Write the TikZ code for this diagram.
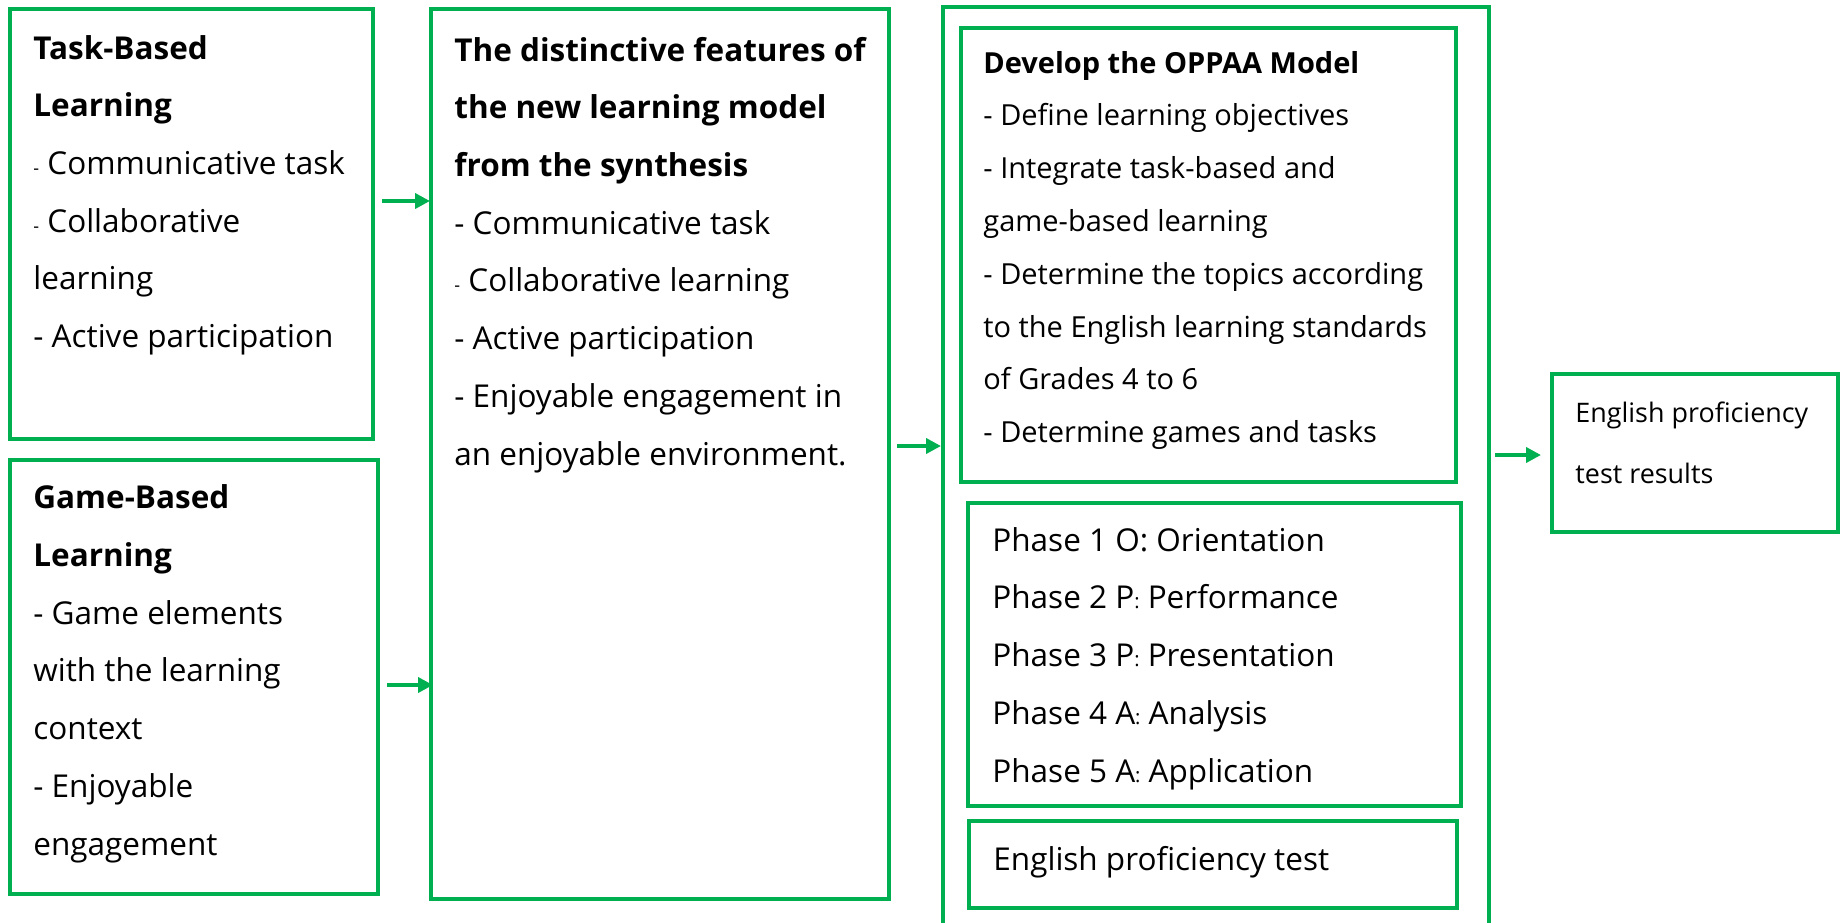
\documentclass[tikz,border=0pt]{standalone}
\usepackage{fontspec}
\setmainfont{Open Sans}
\usetikzlibrary{arrows.meta,fit}
\definecolor{ogreen}{HTML}{00B050}
\newcommand{\sdash}{{\fontsize{9}{9}\selectfont -}}
\newcommand{\scolon}{{\fontsize{10}{10}\selectfont :}}
\begin{document}
\begin{tikzpicture}[x=0.5pt,y=-0.5pt,
  box/.style={draw=ogreen, line width=2pt, inner sep=0pt},
  txt/.style={anchor=base west, inner sep=0pt, align=left, font=\fontsize{15.75}{28.85}\selectfont},
  txtA/.style={txt, font=\fontsize{14.5}{26.4}\selectfont},
  txtR/.style={txt, font=\fontsize{13.45}{30.5}\selectfont},
  arr/.style={draw=ogreen, line width=2pt, -{Triangle[length=7.5pt,width=7.5pt]}}]
\useasboundingbox[fill=white] (0,0) rectangle (1841,922);
% boxes
\node[box, fit={(10,9) (373,439)}] (b1) {};
\node[box, fit={(10,460) (378,894)}] (b2) {};
\node[box, fit={(431,9) (889,899)}] (b3) {};
\node[box, fit={(943,7) (1489,960)}] (outer) {};
\node[box, fit={(961,28) (1456,482)}] (bA) {};
\node[box, fit={(968,503) (1461,806)}] (bB) {};
\node[box, fit={(969,821) (1457,908)}] (bC) {};
\node[box, fit={(1552,374) (1838,532)}] (b5) {};
% texts (anchored at the baseline of their last line)
\node[txt] (t1) at (33,347.5) {\textbf{Task-Based}\\\textbf{Learning}\\\sdash{} Communicative task\\\sdash{} Collaborative\\learning\\- Active participation};
\node[txt] (t2) at (33,855) {\textbf{Game-Based}\\\textbf{Learning}\\- Game elements\\with the learning\\context\\- Enjoyable\\engagement};
\node[txt] (t3) at (454,465) {\textbf{The distinctive features of}\\\textbf{the new learning model}\\\textbf{from the synthesis}\\- Communicative task\\\sdash{} Collaborative learning\\- Active participation\\- Enjoyable engagement in\\an enjoyable environment.};
\node[txtA] (tA) at (983,442.6) {\textbf{Develop the OPPAA Model}\\- Define learning objectives\\- Integrate task-based and\\game-based learning\\- Determine the topics according\\to the English learning standards\\of Grades 4 to 6\\- Determine games and tasks};
\node[txt] (tB) at (992,782) {Phase 1 O: Orientation\\Phase 2 P\scolon{} Performance\\Phase 3 P\scolon{} Presentation\\Phase 4 A\scolon{} Analysis\\Phase 5 A\scolon{} Application};
\node[txt] (tC) at (993,870) {English proficiency test};
\node[txtR] (t5) at (1575,483) {English proficiency\\test results};
% arrows
\coordinate (y1) at (0,201);
\coordinate (y2) at (0,685);
\coordinate (y3) at (0,446);
\coordinate (y4) at (0,455);
\draw[arr, shorten <=3.5pt, shorten >=-0.5pt] (b1.east |- y1) -- (b3.west |- y1);
\draw[arr, shorten <=3.5pt, shorten >=-2pt] (b2.east |- y2) -- (b3.west |- y2);
\draw[arr, shorten <=3pt] (b3.east |- y3) -- (outer.west |- y3);
\draw[arr, shorten <=2pt, shorten >=4.5pt] (outer.east |- y4) -- (b5.west |- y4);
\end{tikzpicture}
\end{document}
